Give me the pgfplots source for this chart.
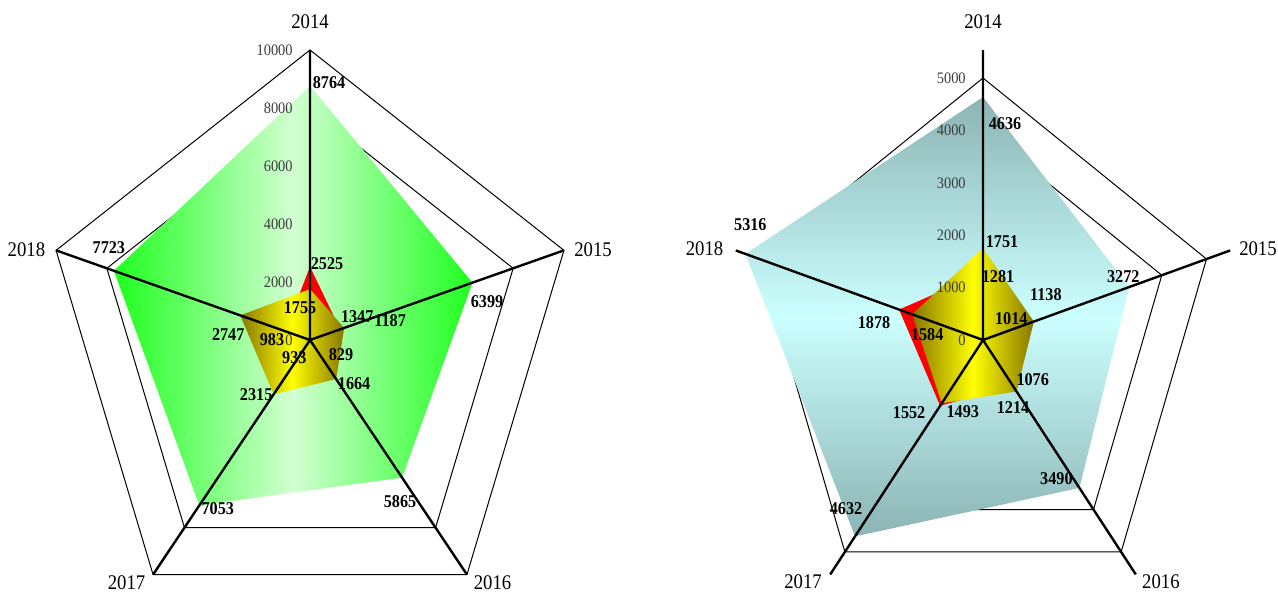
\documentclass[border=0pt]{standalone}
\usepackage{pgfplots}
\pgfplotsset{compat=1.18}
\usepackage{pgfplotstable}
\usepackage{fontspec}
\setmainfont{Liberation Serif}
\definecolor{gEdge}{RGB}{30,255,30}
\definecolor{gMid}{RGB}{210,255,210}
\definecolor{yEdge}{RGB}{135,118,0}
\definecolor{yMid}{RGB}{255,255,0}
\definecolor{cEdge}{RGB}{140,180,180}
\definecolor{cMid}{RGB}{204,255,255}
\definecolor{tickgray}{RGB}{60,60,60}

% a = spoke angle, r = value, dx/dy = label offset (pt)
\pgfplotstableread{
a r dx dy
90 8764 9.5 1.5
18 6399 7.25 -9.5
-54 5865 -1 -12
-126 7053 9.25 -1.75
162 7723 -2.5 11.5
}\LGreen
\pgfplotstableread{
a r dx dy
90 2525 8.5 1.5
18 1187 25 4.2
-54 829 9 2.5
-126 933 -0.5 2
162 983 -6.5 -4
}\LRed
\pgfplotstableread{
a r dx dy
90 1755 -5 -9.5
18 1347 6.5 5.5
-54 1664 9 -2.5
-126 2315 -8.75 0
162 2747 -6 -9.5
}\LYellow
\pgfplotstableread{
a r dx dy
90 4636 11 -13.5
18 3272 -3 5
-54 3490 -11.5 4.5
-126 4632 -4.5 14
162 5316 2.5 14.5
}\RCyan
\pgfplotstableread{
a r dx dy
90 1281 7.5 -2
18 1014 -8.5 2.3
-54 1076 10 2.8
-126 1552 -15.5 -3.5
162 1878 -12.5 -6.5
}\RRed
\pgfplotstableread{
a r dx dy
90 1751 9.5 3.5
18 1138 6 13.3
-54 1214 -1.75 -8.25
-126 1493 10.5 -4.35
162 1584 7.5 -10.35
}\RYellow
\pgfplotstableread{
a r
90 1
18 1
-54 1
-126 1
162 1
}\Angles
\pgfplotstableread{
a r
90 1
90 0
18 1
18 0
-54 1
-54 0
-126 1
-126 0
162 1
162 0
}\Spokes

\pgfplotsset{
  radar/.style={hide axis, clip=false, anchor=origin,
    xmin=-1.25, xmax=1.25, ymin=-1.25, ymax=1.25},
  vlabels/.style={draw=none, mark=none, point meta=explicit symbolic,
    visualization depends on={\thisrow{dx} \as \ldx},
    visualization depends on={\thisrow{dy} \as \ldy},
    nodes near coords,
    nodes near coords style={anchor=center, inner sep=0pt, text=black,
      font=\bfseries\fontsize{9}{9}\selectfont,
      xshift=\ldx pt, yshift=\ldy pt, xscale=0.9}},
}
\tikzset{
  yearlab/.style={font=\fontsize{10.4}{10.4}\selectfont, inner sep=0pt, xscale=0.9},
  ticklab/.style={font=\fontsize{8}{8}\selectfont, text=tickgray, inner sep=0pt,
    anchor=east, xshift=-8.5pt, xscale=0.9},
}

\begin{document}
\begin{tikzpicture}
\useasboundingbox (0,0) rectangle (639pt,296pt);

% ---------------- left radar ----------------
\begin{axis}[radar, at={(155pt,126pt)}, x=133.5pt, y=145pt]
  \addplot[black, line width=0.5pt] table[x expr={0.8*cos(\thisrow{a})}, y expr={0.8*sin(\thisrow{a})}] {\Angles} -- cycle;
  \addplot[black, line width=0.5pt] table[x expr={cos(\thisrow{a})}, y expr={sin(\thisrow{a})}] {\Angles} -- cycle;
  \addplot[draw=none, left color=gEdge, right color=gEdge, middle color=gMid]
    table[x expr={\thisrow{r}/10000*cos(\thisrow{a})}, y expr={\thisrow{r}/10000*sin(\thisrow{a})}] {\LGreen} -- cycle;
  \addplot[draw=none, fill=red]
    table[x expr={\thisrow{r}/10000*cos(\thisrow{a})}, y expr={\thisrow{r}/10000*sin(\thisrow{a})}] {\LRed} -- cycle;
  \addplot[draw=none, left color=yEdge, right color=yEdge, middle color=yMid]
    table[x expr={\thisrow{r}/10000*cos(\thisrow{a})}, y expr={\thisrow{r}/10000*sin(\thisrow{a})}] {\LYellow} -- cycle;
  \addplot[black, line width=1.2pt] table[x expr={\thisrow{r}*cos(\thisrow{a})}, y expr={\thisrow{r}*sin(\thisrow{a})}] {\Spokes};
  \node[ticklab] at (axis cs:0,0) {0};
  \node[ticklab] at (axis cs:0,0.2) {2000};
  \node[ticklab] at (axis cs:0,0.4) {4000};
  \node[ticklab] at (axis cs:0,0.6) {6000};
  \node[ticklab] at (axis cs:0,0.8) {8000};
  \node[ticklab] at (axis cs:0,1) {10000};
  \node[yearlab] at (axis cs:0,1.0966) {2014};
  \node[yearlab] at (axis cs:1.06,0.310) {2015};
  \node[yearlab] at (axis cs:0.6835,-0.838) {2016};
  \node[yearlab] at (axis cs:-0.687,-0.838) {2017};
  \node[yearlab] at (axis cs:-1.062,0.310) {2018};
  \addplot[vlabels] table[meta=r, x expr={\thisrow{r}/10000*cos(\thisrow{a})}, y expr={\thisrow{r}/10000*sin(\thisrow{a})}] {\LGreen};
  \addplot[vlabels] table[meta=r, x expr={\thisrow{r}/10000*cos(\thisrow{a})}, y expr={\thisrow{r}/10000*sin(\thisrow{a})}] {\LRed};
  \addplot[vlabels] table[meta=r, x expr={\thisrow{r}/10000*cos(\thisrow{a})}, y expr={\thisrow{r}/10000*sin(\thisrow{a})}] {\LYellow};
\end{axis}

% ---------------- right radar ----------------
\begin{axis}[radar, at={(491.5pt,126pt)}, x=117.5pt, y=131pt]
  \addplot[black, line width=0.5pt] table[x expr={0.8*cos(\thisrow{a})}, y expr={0.8*sin(\thisrow{a})}] {\Angles} -- cycle;
  \addplot[black, line width=0.5pt] table[x expr={cos(\thisrow{a})}, y expr={sin(\thisrow{a})}] {\Angles} -- cycle;
  \addplot[draw=none, top color=cEdge, bottom color=cEdge, middle color=cMid]
    table[x expr={\thisrow{r}/5000*cos(\thisrow{a})}, y expr={\thisrow{r}/5000*sin(\thisrow{a})}] {\RCyan} -- cycle;
  \addplot[draw=none, fill=red]
    table[x expr={\thisrow{r}/5000*cos(\thisrow{a})}, y expr={\thisrow{r}/5000*sin(\thisrow{a})}] {\RRed} -- cycle;
  \addplot[draw=none, left color=yEdge, right color=yEdge, middle color=yMid]
    table[x expr={\thisrow{r}/5000*cos(\thisrow{a})}, y expr={\thisrow{r}/5000*sin(\thisrow{a})}] {\RYellow} -- cycle;
  \addplot[black, line width=1.2pt] table[x expr={1.106*\thisrow{r}*cos(\thisrow{a})}, y expr={1.106*\thisrow{r}*sin(\thisrow{a})}] {\Spokes};
  \node[ticklab] at (axis cs:0,0) {0};
  \node[ticklab] at (axis cs:0,0.2) {1000};
  \node[ticklab] at (axis cs:0,0.4) {2000};
  \node[ticklab] at (axis cs:0,0.6) {3000};
  \node[ticklab] at (axis cs:0,0.8) {4000};
  \node[ticklab] at (axis cs:0,1) {5000};
  \node[yearlab] at (axis cs:0,1.214) {2014};
  \node[yearlab] at (axis cs:1.170,0.347) {2015};
  \node[yearlab] at (axis cs:0.757,-0.924) {2016};
  \node[yearlab] at (axis cs:-0.766,-0.924) {2017};
  \node[yearlab] at (axis cs:-1.185,0.347) {2018};
  \addplot[vlabels] table[meta=r, x expr={\thisrow{r}/5000*cos(\thisrow{a})}, y expr={\thisrow{r}/5000*sin(\thisrow{a})}] {\RCyan};
  \addplot[vlabels] table[meta=r, x expr={\thisrow{r}/5000*cos(\thisrow{a})}, y expr={\thisrow{r}/5000*sin(\thisrow{a})}] {\RRed};
  \addplot[vlabels] table[meta=r, x expr={\thisrow{r}/5000*cos(\thisrow{a})}, y expr={\thisrow{r}/5000*sin(\thisrow{a})}] {\RYellow};
\end{axis}
\end{tikzpicture}
\end{document}
